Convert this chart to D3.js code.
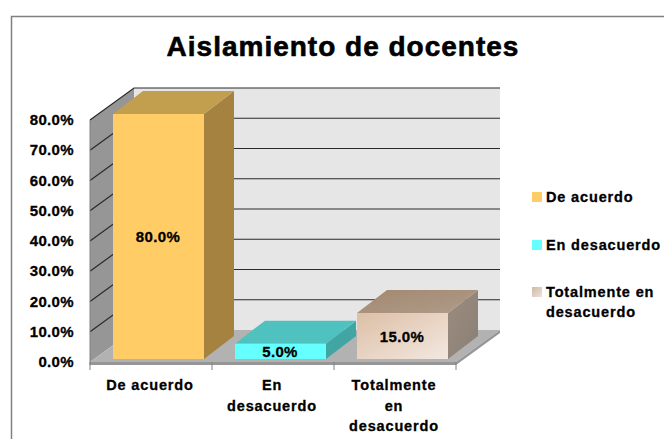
<!DOCTYPE html>
<html><head><meta charset="utf-8">
<script src="https://cdnjs.cloudflare.com/ajax/libs/d3/7.8.5/d3.min.js"></script>
<style>html,body{margin:0;padding:0;background:#fff}svg{display:block}text{font-family:"Liberation Sans",Arial,sans-serif;font-weight:bold;fill:#000;stroke:#000;stroke-width:.3px}</style>
</head><body><div id="c"></div>
<script>
const categories=["De acuerdo","En desacuerdo","Totalmente en desacuerdo"];
const values=[80,5,15];
const axisTicks=[0,10,20,30,40,50,60,70,80];
const catLines=[["De acuerdo"],["En","desacuerdo"],["Totalmente","en","desacuerdo"]];
const legendLines=[["De acuerdo"],["En desacuerdo"],["Totalmente en","desacuerdo"]];
const front=["#FFCC66","#66FFFF","url(#g3)"];
const top_=["#C29E4F","#4FC2C0","url(#g3t)"];
const side=["#A5823F","#40A5A3","url(#g3s)"];

const svg=d3.select("#c").append("svg").attr("width",664).attr("height",439);
const defs=svg.append("defs");
function grad(id,a,b){const g=defs.append("linearGradient").attr("id",id).attr("x1",0).attr("y1",0).attr("x2",1).attr("y2",1);
 g.append("stop").attr("offset",0).attr("stop-color",a);g.append("stop").attr("offset",1).attr("stop-color",b);}
grad("g3","#DDBFA6","#F2E8E0");grad("g3t","#A48870","#AE9C8A");grad("g3s","#9C8C7E","#8A7F76");
grad("gl","#D0B8A4","#EDE3DB");

svg.append("path").attr("d","M11.5,439V16.5H664").attr("fill","none").attr("stroke","#808080").attr("stroke-width",1.5);

const dx=44,dy=-32;
const y=d3.scaleLinear().domain([0,80]).range([362,120]);
const x=d3.scaleBand().domain(categories).range([90,456]);
const yBar=d3.scaleLinear().domain([0,80]).range([359,114]);
const pts=a=>a.map(p=>p.join(",")).join(" ");

const x0=x.range()[0],x1=x.range()[1],yT=y(80),yB=y(0);
svg.append("polygon").attr("points",pts([[x0+dx,yT+dy],[x1+dx,yT+dy],[x1+dx,yB+dy],[x0+dx,yB+dy]])).attr("fill","#E6E6E6");
svg.append("polygon").attr("points",pts([[x0,yT],[x0+dx,yT+dy],[x0+dx,yB+dy],[x0,yB]])).attr("fill","#969696");
svg.append("polygon").attr("points",pts([[x0,yB],[x0+dx,yB+dy],[x1+dx,yB+dy],[x1,yB]])).attr("fill","#B2B2B2");
svg.append("rect").attr("x",x0).attr("y",yB).attr("width",x1-x0).attr("height",3).attr("fill","#969696");
svg.append("polygon").attr("points",pts([[x1,yB],[x1+dx,yB+dy],[x1+dx,yB+dy+3],[x1,yB+3]])).attr("fill","#969696");
axisTicks.forEach(t=>{
 if(t>0)svg.append("polyline").attr("points",pts([[x0,y(t)],[x0+dx,y(t)+dy],[x1+dx,y(t)+dy]])).attr("fill","none").attr("stroke","#2a2a2a").attr("stroke-width",1.2);
 svg.append("text").attr("x",74).attr("y",y(t)+5).attr("text-anchor","end").attr("font-size",15).attr("letter-spacing",.35).text(t.toFixed(1)+"%");
});
svg.append("line").attr("x1",x0).attr("x2",x0).attr("y1",yT).attr("y2",yB+3).attr("stroke","#808080");
[...categories.map(c=>x(c)),x1].forEach(v=>svg.append("line").attr("x1",v).attr("x2",v).attr("y1",yB).attr("y2",yB+8).attr("stroke","#808080"));
const bdx=30,bdy=-23,barInset=23,barWidth=91;
categories.forEach((c,i)=>{
 const L=x(c)+barInset,R=L+barWidth,T=yBar(values[i]),B=yBar(0);
 svg.append("polygon").attr("points",pts([[R,T],[R+bdx,T+bdy],[R+bdx,B+bdy],[R,B]])).attr("fill",side[i]);
 svg.append("polygon").attr("points",pts([[L,T],[L+bdx,T+bdy],[R+bdx,T+bdy],[R,T]])).attr("fill",top_[i]);
 svg.append("rect").attr("x",L).attr("y",T).attr("width",barWidth).attr("height",B-T).attr("fill",front[i]);
 svg.append("text").attr("x",L+barWidth/2-.5).attr("y",(T+B)/2+5.5).attr("text-anchor","middle").attr("font-size",15).attr("letter-spacing",.35).text(values[i].toFixed(1)+"%");
 catLines[i].forEach((l,j)=>svg.append("text").attr("x",x(c)+x.bandwidth()/2-1).attr("y",390+j*20.5).attr("text-anchor","middle").attr("font-size",14.5).attr("letter-spacing",.85).text(l));
});
const legY=[197,245,292],legF=["#FFCC66","#66FFFF","url(#gl)"];
categories.forEach((c,i)=>{
 svg.append("rect").attr("x",532).attr("y",legY[i]-5).attr("width",10).attr("height",10).attr("fill",legF[i]);
 legendLines[i].forEach((l,j)=>svg.append("text").attr("x",546).attr("y",legY[i]+5+j*20).attr("font-size",14.5).attr("letter-spacing",.85).text(l));
});
svg.append("text").attr("x",343).attr("y",56).attr("text-anchor","middle").attr("font-size",28).attr("letter-spacing",1).attr("style","stroke-width:.6px").text("Aislamiento de docentes");
</script></body></html>
